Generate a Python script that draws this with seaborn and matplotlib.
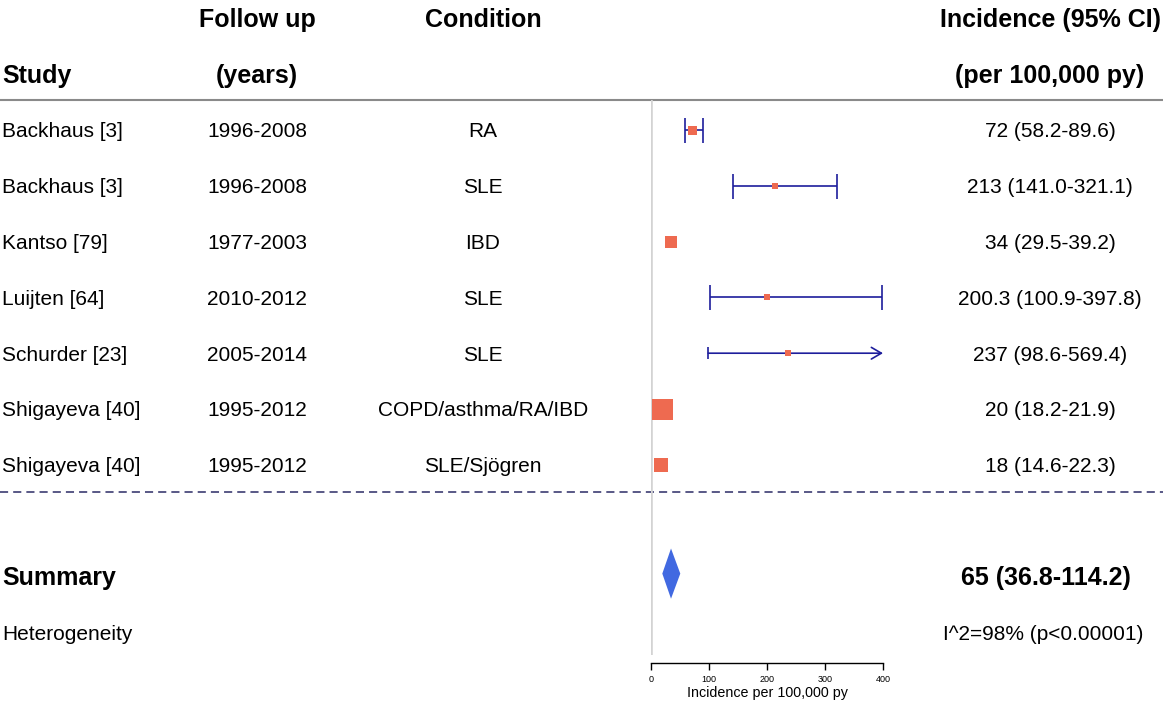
import numpy as np
import pandas as pd
import matplotlib
matplotlib.use("Agg")
import matplotlib.pyplot as plt
import seaborn as sns
from matplotlib.patches import Polygon

# ---------------- data ----------------
studies = ["Backhaus [3]", "Backhaus [3]", "Kantso [79]", "Luijten [64]",
           "Schurder [23]", "Shigayeva [40]", "Shigayeva [40]"]
follow_up = ["1996-2008", "1996-2008", "1977-2003", "2010-2012",
             "2005-2014", "1995-2012", "1995-2012"]
conditions = ["RA", "SLE", "IBD", "SLE", "SLE", "COPD/asthma/RA/IBD", "SLE/Sjögren"]
estimates = [72, 213, 34, 200.3, 237, 20, 18]
lower = [58.2, 141.0, 29.5, 100.9, 98.6, 18.2, 14.6]
upper = [89.6, 321.1, 39.2, 397.8, 569.4, 21.9, 22.3]
weights = [9, 6, 12, 6, 6, 21, 14]          # relative box size
summary_text = "65 (36.8-114.2)"
summary_diamond = [19.5, 34.5, 50.5]        # diamond (low, centre, high) as drawn
heterogeneity_text = "I^2=98% (p<0.00001)"
x_ticks = [0, 100, 200, 300, 400]
x_label = "Incidence per 100,000 py"
header_top = ["Follow up", "Condition", "Incidence (95% CI)"]
header_bottom = ["Study", "(years)", "(per 100,000 py)"]

# ---------------- style ----------------
sns.set_theme(style="white")
plt.rcParams["font.family"] = ["Liberation Sans", "DejaVu Sans"]
plt.rcParams["text.color"] = "black"

SQ_COLOR = "#EE6A50"
CI_COLOR = "#1E1E9C"
DIA_COLOR = "#4169E1"

W, H = 1163, 703
fig = plt.figure(figsize=(W / 100, H / 100), dpi=100)

ROW0_PX, ROW_STEP = 130, 55.8
row_top = -ROW0_PX / ROW_STEP
row_bottom = (H - ROW0_PX) / ROW_STEP

# background axes for text columns (x in pixels, y in rows)
bg = fig.add_axes([0, 0, 1, 1])
bg.set_xlim(0, W)
bg.set_ylim(row_bottom, row_top)
bg.axis("off")

# forest axes
axis_px = 662.7
left_px, right_px = 651, 883
ax = fig.add_axes([left_px / W, (H - axis_px) / H, (right_px - left_px) / W, axis_px / H])
ax.set_xlim(x_ticks[0], x_ticks[-1])
ax_row_bottom = (axis_px - ROW0_PX) / ROW_STEP
ax.set_ylim(ax_row_bottom, row_top)
ax.patch.set_alpha(0)

df = pd.DataFrame({"study": studies, "est": estimates, "lo": lower, "hi": upper,
                   "w": weights})
df["row"] = np.arange(len(df))
df["area"] = (df["w"] * 0.72) ** 2

xmax = x_ticks[-1]
px_per_unit = (right_px - left_px) / (x_ticks[-1] - x_ticks[0])

# reference line at 0
ax.plot([0, 0], [-0.54, 9.41], color="#D3D3D3", lw=2.6, zorder=1, solid_capstyle="butt")

# confidence intervals (hidden when the box covers them)
for _, r in df.iterrows():
    half = r["w"] / 2 / px_per_unit
    if r["lo"] >= r["est"] - half and r["hi"] <= r["est"] + half:
        continue
    if r["hi"] <= xmax:
        ax.errorbar(r["est"], r["row"], xerr=[[r["est"] - r["lo"]], [r["hi"] - r["est"]]],
                    fmt="none", ecolor=CI_COLOR, elinewidth=1.2, capsize=9,
                    capthick=1.2, zorder=2)
    else:
        ax.annotate("", xy=(xmax, r["row"]), xytext=(r["lo"], r["row"]),
                    arrowprops=dict(arrowstyle="->,head_length=0.6,head_width=0.35",
                                    color=CI_COLOR, lw=1.2, shrinkA=0, shrinkB=0,
                                    mutation_scale=12), zorder=2)
        ax.plot([r["lo"]], [r["row"]], marker="|", markersize=9, mew=1.2,
                color=CI_COLOR, zorder=2)

# point estimates
amin, amax = df["area"].min(), df["area"].max()
sns.scatterplot(data=df, x="est", y="row", size="area", sizes=(amin, amax),
                size_norm=(amin, amax), marker="s", color=SQ_COLOR, linewidth=0,
                legend=False, ax=ax, zorder=3, clip_on=False)

# summary diamond
sum_row = len(df) + 1
lo_s, c_s, hi_s = summary_diamond
half_h = 0.45
ax.add_patch(Polygon([[lo_s, sum_row - 0.05], [c_s, sum_row - 0.05 - half_h], [hi_s, sum_row - 0.05],
                      [c_s, sum_row - 0.05 + half_h]], closed=True, color=DIA_COLOR, lw=0,
                     zorder=3))

# axis styling
for s in ["top", "right", "left"]:
    ax.spines[s].set_visible(False)
ax.spines["bottom"].set_bounds(x_ticks[0], x_ticks[-1])
ax.spines["bottom"].set_color("black")
ax.spines["bottom"].set_linewidth(1.0)
ax.set_xticks(x_ticks)
ax.set_xticklabels([str(t) for t in x_ticks])
ax.set_yticks([])
ax.tick_params(axis="x", direction="out", length=5, width=1, color="black",
               labelsize=6.5, labelcolor="black", pad=4, bottom=True)
ax.set_xlabel(x_label, fontsize=10.3, labelpad=1, color="black")
ax.set_ylabel("")

# lines across the table
bg.plot([0, W], [-0.54, -0.54], color="#8A8A8A", lw=1.5)
bg.plot([0, W], [6.49, 6.49], color="#4B4B7D", lw=1.3, linestyle=(0, (4.5, 2.8)))

# text columns
X_STUDY, X_FU, X_COND, X_INC = 2, 257, 483, 1050
FS, FSB = 15, 18
DY = 0.035

def put(x, row, s, ha="center", bold=False):
    bg.text(x, row + DY, s, ha=ha, va="center", fontsize=FSB if bold else FS,
            fontweight="bold" if bold else "normal", color="black")

put(X_FU, -2, header_top[0], bold=True)
put(X_COND, -2, header_top[1], bold=True)
put(X_INC, -2, header_top[2], bold=True)
put(X_STUDY, -1, header_bottom[0], ha="left", bold=True)
put(X_FU, -1, header_bottom[1], bold=True)
put(X_INC, -1, header_bottom[2], bold=True)

for i, (s, f, c, e, l, u) in enumerate(zip(studies, follow_up, conditions,
                                           estimates, lower, upper)):
    put(X_STUDY, i, s, ha="left")
    put(X_FU, i, f)
    put(X_COND, i, c)
    put(X_INC, i, f"{e:g} ({l:.1f}-{u:.1f})")

put(X_STUDY, sum_row, "Summary", ha="left", bold=True)
put(X_INC - 4, sum_row, summary_text, bold=True)
put(X_STUDY, sum_row + 1, "Heterogeneity", ha="left")
put(X_INC - 7, sum_row + 1, heterogeneity_text)

fig.savefig("out.png", dpi=100, facecolor="white")
